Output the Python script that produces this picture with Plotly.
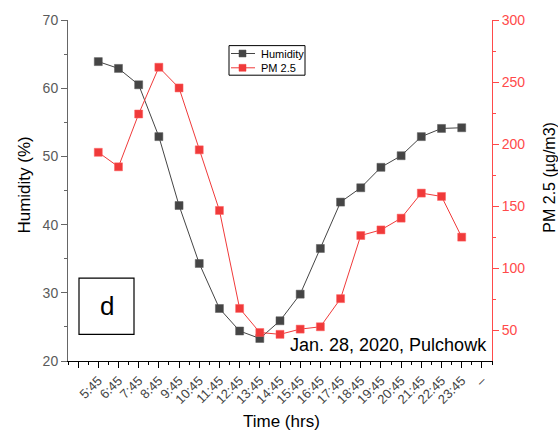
import plotly.graph_objects as go

# Hourly observations, Pulchowk, 28 Jan 2020
times = ["5:45", "6:45", "7:45", "8:45", "9:45", "10:45", "11:45", "12:45",
         "13:45", "14:45", "15:45", "16:45", "17:45", "18:45", "19:45",
         "20:45", "21:45", "22:45", "23:45"]
humidity = [63.9, 62.9, 60.5, 52.9, 42.8, 34.3, 27.7, 24.4, 23.3, 25.9,
            29.8, 36.5, 43.3, 45.4, 48.4, 50.1, 52.9, 54.1, 54.2]
pm25 = [193.3, 181.6, 224.2, 261.9, 245.2, 195.3, 146.4, 67.4, 48.0, 46.5,
        50.7, 52.6, 75.3, 126.2, 130.7, 140.2, 160.4, 157.7, 124.9]
tick_labels = times + ["\u2013"]
series_names = ["Humidity", "PM 2.5"]

FONT = "Liberation Sans, Arial, sans-serif"
GRAY = "#454545"
RED = "#f03a3a"
RED_TXT = "#ff4a4a"

# plot area in pixels: left 68, right 492, top 15, bottom 361
L, R, T, B = 68, 492, 15, 361


def px(x):
    return (x - L) / (R - L)


def py(y):
    return (B - y) / (B - T)


xs = list(range(len(times)))
major_x = list(range(-1, len(tick_labels)))
minor_x = [v + 0.5 for v in range(-2, len(tick_labels))]

fig = go.Figure()
fig.add_trace(go.Scatter(
    x=xs, y=humidity, name=series_names[0], mode="lines+markers",
    line=dict(color=GRAY, width=1),
    marker=dict(symbol="square", size=8, color=GRAY,
                line=dict(color="#5a5a5a", width=0.5)),
    xaxis="x", yaxis="y"))
fig.add_trace(go.Scatter(
    x=xs, y=pm25, name=series_names[1], mode="lines+markers",
    line=dict(color=RED, width=1),
    marker=dict(symbol="square", size=8, color=RED,
                line=dict(color="#ff6060", width=0.5)),
    xaxis="x", yaxis="y2"))

xrange = [-1.5, len(tick_labels) - 0.5]

fig.update_layout(
    width=558, height=433,
    margin=dict(l=L, r=558 - R, t=T, b=433 - B),
    paper_bgcolor="white", plot_bgcolor="white",
    font=dict(family=FONT, size=14, color="#333"),
    showlegend=False,
    xaxis=dict(
        range=xrange, showgrid=False, zeroline=False,
        showline=True, linecolor="black", linewidth=1,
        tickmode="array", tickvals=major_x,
        ticktext=[""] + tick_labels,
        ticks="outside", ticklen=6, tickcolor="black", tickwidth=1,
        tickangle=-45, tickfont=dict(size=13, color="#444"),
        minor=dict(tickmode="array", tickvals=minor_x, ticks="outside",
                   ticklen=3, tickcolor="black", tickwidth=1)),
    xaxis2=dict(
        range=xrange, overlaying="x", side="top", anchor="y",
        showgrid=False, zeroline=False,
        showline=True, linecolor="black", linewidth=1,
        tickmode="array", tickvals=major_x, showticklabels=False,
        ticks="inside", ticklen=6, tickcolor="black", tickwidth=1,
        minor=dict(tickmode="array", tickvals=minor_x, ticks="inside",
                   ticklen=3, tickcolor="black", tickwidth=1)),
    yaxis=dict(
        range=[20, 70], dtick=10, tick0=0, showgrid=False, zeroline=False,
        showline=True, linecolor="#666", linewidth=1,
        ticks="outside", ticklen=6, tickcolor="#666", tickwidth=1,
        tickfont=dict(size=14, color="#5a5a5a"),
        minor=dict(dtick=5, tick0=0, ticks="outside", ticklen=3,
                   tickcolor="#666", tickwidth=1)),
    yaxis2=dict(
        range=[25, 300], overlaying="y", side="right", anchor="x",
        tickmode="array", tickvals=[50, 100, 150, 200, 250, 300],
        showgrid=False, zeroline=False,
        showline=True, linecolor=RED_TXT, linewidth=1,
        ticks="outside", ticklen=6, tickcolor=RED_TXT, tickwidth=1,
        tickfont=dict(size=14, color=RED_TXT),
        minor=dict(tickmode="array", tickvals=[75, 125, 175, 225, 275],
                   ticks="outside", ticklen=3, tickcolor=RED_TXT,
                   tickwidth=1)),
)

# Panel label box
fig.add_shape(type="rect", xref="paper", yref="paper",
              x0=px(79), x1=px(134), y0=py(334), y1=py(277),
              line=dict(color="black", width=1.2), fillcolor="white")

# Compact legend: frame, key line + square, label
fig.add_shape(type="rect", xref="paper", yref="paper",
              x0=px(229), x1=px(305), y0=py(71), y1=py(41),
              line=dict(color="black", width=1), fillcolor="white")
legend_keys = [(series_names[0], GRAY, 49), (series_names[1], RED, 63.5)]
for name, col, yc in legend_keys:
    fig.add_shape(type="line", xref="paper", yref="paper",
                  x0=px(231), x1=px(255), y0=py(yc), y1=py(yc),
                  line=dict(color=col, width=1))
    fig.add_shape(type="rect", xref="paper", yref="paper",
                  x0=px(239), x1=px(246), y0=py(yc + 3.5), y1=py(yc - 3.5),
                  line=dict(color=col, width=0.5), fillcolor=col)
    fig.add_annotation(text=name, xref="paper", yref="paper",
                       x=px(259), y=py(yc), xanchor="left",
                       yanchor="middle", showarrow=False,
                       font=dict(size=11, color="black"))

annotations = [
    dict(text="d", x=px(106.5), y=py(305),
         font=dict(size=26, color="black")),
    dict(text="Jan. 28, 2020, Pulchowk", x=px(489), y=py(345),
         xanchor="right", font=dict(size=18, color="black")),
    dict(text="Humidity (%)", x=px(25), y=py(183),
         textangle=-90, font=dict(size=17, color="black")),
    dict(text="PM 2.5 (\u00b5g/m3)", x=px(550), y=py(175),
         textangle=-90, font=dict(size=16, color="black")),
    dict(text="Time (hrs)", x=px(281), y=py(422),
         font=dict(size=17, color="black")),
]
for a in annotations:
    a.update(xref="paper", yref="paper", showarrow=False)
    a.setdefault("xanchor", "center")
    a.setdefault("yanchor", "middle")
    fig.add_annotation(**a)

fig.write_html("out.html")
